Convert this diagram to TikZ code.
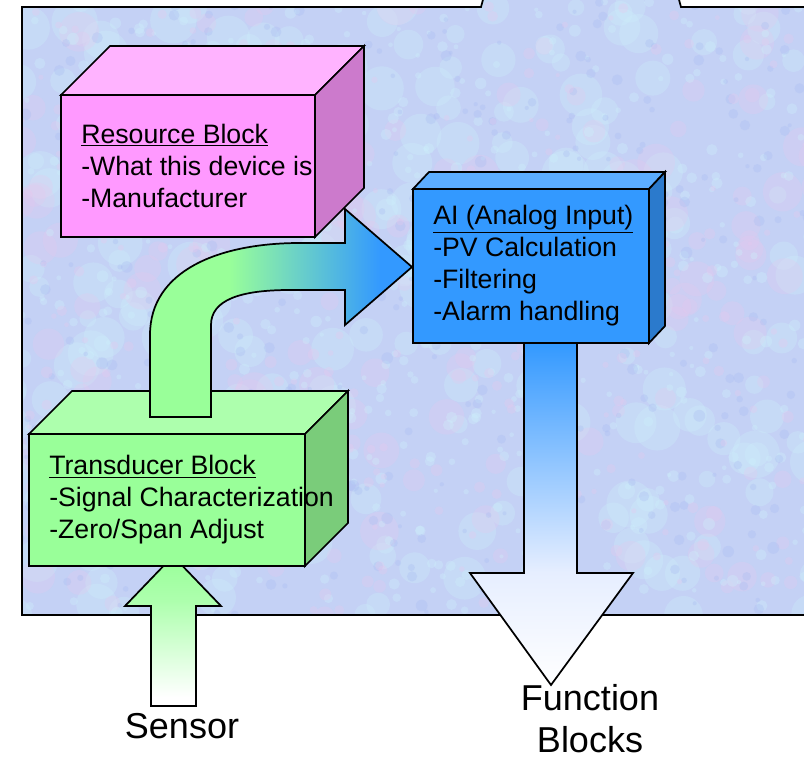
\documentclass[tikz,border=0pt]{standalone}
\usepackage{fontspec}
\setmainfont{Liberation Sans}
\usepackage{tikz}
\usetikzlibrary{calc,positioning,shapes,arrows.meta}

\definecolor{bgbase}{HTML}{C4D1F5}
\definecolor{mistpink}{HTML}{E8C8EE}
\definecolor{mistcyan}{HTML}{CDF0FB}
\definecolor{mistblue}{HTML}{A8BBF2}
\definecolor{resfront}{HTML}{FF99FF}
\definecolor{restop}{HTML}{FFB3FF}
\definecolor{resside}{HTML}{CC7ACC}
\definecolor{aifront}{HTML}{3399FF}
\definecolor{aitop}{HTML}{5CADFF}
\definecolor{aiside}{HTML}{2B7ACC}
\definecolor{aipale}{HTML}{E6EEFF}
\definecolor{tbfront}{HTML}{99FF99}
\definecolor{tbtop}{HTML}{ADFFAD}
\definecolor{tbside}{HTML}{7ACC7A}

\pgfdeclarehorizontalshading{greentoblue}{100bp}{color(0bp)=(tbfront); color(40bp)=(tbfront); color(69bp)=(aifront); color(100bp)=(aifront)}
\pgfdeclareverticalshading{bluetowhite}{100bp}{color(0bp)=(white); color(25bp)=(white); color(41.5bp)=(aipale); color(75bp)=(aifront); color(100bp)=(aifront)}
\pgfdeclareverticalshading{greentowhite}{100bp}{color(0bp)=(white); color(28bp)=(white); color(60bp)=(tbfront!80!white); color(75bp)=(tbfront); color(100bp)=(tbfront)}

\tikzset{
  outline/.style={draw=black, line width=1.3pt, line join=miter},
  front/.style={outline, rectangle, inner sep=0pt, outer sep=0pt},
  blocktext/.style={align=left, anchor=west, inner sep=0pt, font=\fontsize{20}{24}\selectfont},
  bigtext/.style={align=center, inner sep=0pt, font=\fontsize{27}{31.5}\selectfont}
}

\begin{document}
\begin{tikzpicture}[x=0.75pt, y=-0.75pt]
    \useasboundingbox (0,0) rectangle (804,759);

    % textured panel
    \begin{scope}
        \clip (22,615) -- (22,7) -- (481,7) -- (484,-4) -- (678,-4) -- (681,7) -- (820,7) -- (820,615) -- cycle;
        \fill[bgbase] (0,-10) rectangle (820,620);
        \pgfmathsetseed{11}
        \foreach \i in {1,...,260}{\fill[mistcyan, opacity=.30] (rnd*820, rnd*620) circle (8+rnd*16);}
        \foreach \i in {1,...,160}{\fill[mistpink, opacity=.25] (rnd*820, rnd*620) circle (6+rnd*14);}
        \foreach \i in {1,...,500}{\fill[mistcyan, opacity=.35] (rnd*820, rnd*620) circle (2+rnd*4);}
        \foreach \i in {1,...,400}{\fill[mistblue, opacity=.30] (rnd*820, rnd*620) circle (2+rnd*4);}
        \foreach \i in {1,...,250}{\fill[mistpink, opacity=.30] (rnd*820, rnd*620) circle (2+rnd*4);}
    \end{scope}
    \draw[line width=1.3pt] (820,615) -- (22,615) -- (22,7) -- (481,7) -- (484,-4);
    \draw[line width=1.3pt] (678,-4) -- (681,7) -- (820,7);

    % sensor input
    \draw[outline, shading=greentowhite]
        (151,706) -- (151,606) -- (125,606) -- (173,556) -- (221,606) -- (196,606) -- (196,706) -- cycle;

    % Transducer Block
    \node[front, fill=tbfront, minimum width=207pt, minimum height=99pt] (tb) at (167,500) {};
    \filldraw[outline, fill=tbtop] (tb.north west) -- ++(43,-43) -- ($(tb.north east)+(43,-43)$) -- (tb.north east) -- cycle;
    \filldraw[outline, fill=tbside] (tb.north east) -- ++(43,-43) -- ($(tb.south east)+(43,-43)$) -- (tb.south east) -- cycle;

    % bent arrow to AI
    \draw[outline, shading=greentoblue]
        (150,417) -- (150,335) .. controls (150,270) and (220,243) .. (300,243) -- (345,243)
        -- (345,209) -- (412,267) -- (345,325) -- (345,290) -- (290,290)
        .. controls (240,290) and (211,300) .. (211,325) -- (211,417) -- cycle;

    % Resource Block
    \node[front, fill=resfront, minimum width=190.5pt, minimum height=106.5pt] (res) at (188,166) {};
    \filldraw[outline, fill=restop] (res.north west) -- ++(49,-49) -- ($(res.north east)+(49,-49)$) -- (res.north east) -- cycle;
    \filldraw[outline, fill=resside] (res.north east) -- ++(49,-49) -- ($(res.south east)+(49,-49)$) -- (res.south east) -- cycle;

    % output to function blocks
    \draw[outline, shading=bluetowhite]
        (524,343) -- (524,573) -- (470,573) -- (551,685) -- (633,573) -- (577,573) -- (577,343) -- cycle;

    % AI block
    \node[front, fill=aifront, minimum width=177pt, minimum height=115.5pt] (ai) at (531,266) {};
    \filldraw[outline, fill=aitop] (ai.north west) -- ++(16,-17) -- ($(ai.north east)+(16,-17)$) -- (ai.north east) -- cycle;
    \filldraw[outline, fill=aiside] (ai.north east) -- ++(16,-17) -- ($(ai.south east)+(16,-17)$) -- (ai.south east) -- cycle;

    % texts
    \node[blocktext] (restext) at ($(res.west)+(20,0)$) {\underline{Resource Block}\\-What this device is\\-Manufacturer};
    \node[blocktext] (aitext) at ($(ai.west)+(20,0)$) {\underline{AI (Analog Input)}\\-PV Calculation\\-Filtering\\-Alarm handling};
    \node[blocktext] (tbtext) at ($(tb.west)+(20,0)$) {\underline{Transducer Block}\\-Signal Characterization\\-Zero/Span Adjust};
    \node[bigtext, anchor=base] (sensor) at (182,738) {Sensor};
    \node[bigtext] (fblocks) at (590,719) {Function\\Blocks};
\end{tikzpicture}
\end{document}
